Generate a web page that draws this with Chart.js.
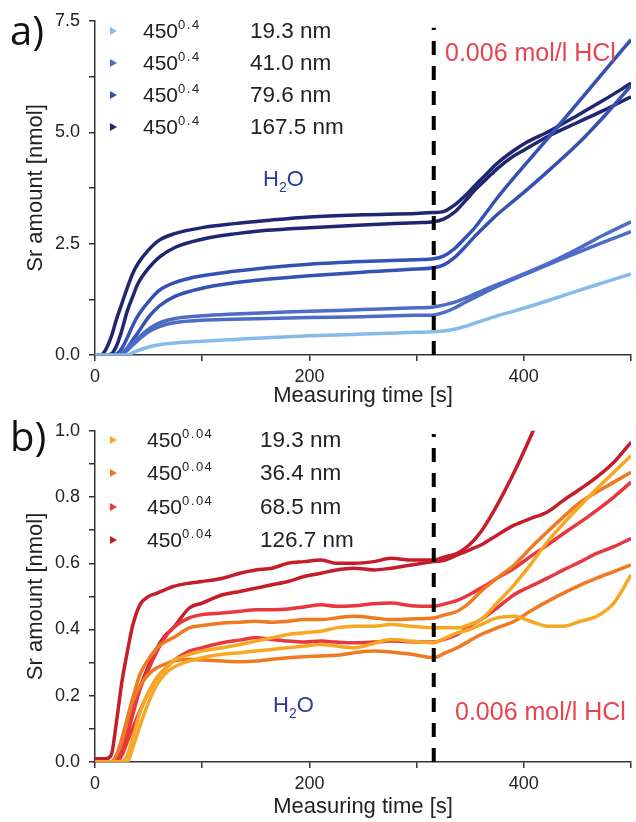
<!DOCTYPE html>
<html><head><meta charset="utf-8">
<script src="https://cdn.jsdelivr.net/npm/chart.js@4.4.1/dist/chart.umd.min.js"></script>
<style>
body{margin:0;background:#fff;}
#wrap{position:relative;width:636px;height:822px;font-family:"Liberation Sans",Arial,sans-serif;color:#222;overflow:hidden;}
canvas{position:absolute;left:0;}
.t{position:absolute;white-space:nowrap;}
.tri{position:absolute;width:0;height:0;border-top:4px solid transparent;border-bottom:4px solid transparent;border-left:7px solid #000;}
.lg{font-size:21px;line-height:24px;}
.lg2{font-size:22.5px;line-height:24px;}
.lg sup{font-size:13px;letter-spacing:1.5px;vertical-align:0;position:relative;top:-9px;}
.pl{font-family:"Open Sans",sans-serif;font-size:40px;line-height:48px;color:#111;}
.h2o{font-size:22px;line-height:26px;color:#2b3a9c;}
.h2o sub{font-size:14px;vertical-align:0;position:relative;top:6px;}
.hcl{font-size:25px;line-height:28px;color:#e8434e;}
</style></head><body>
<div id="wrap">
<canvas id="ca" width="636" height="411" style="top:0"></canvas>
<canvas id="cb" width="636" height="411" style="top:411px"></canvas>
<div class="t pl" style="left:10px;top:6px">a)</div>
<div class="t pl" style="left:10px;top:412px">b)</div>
<div id="legA"></div>
<div id="legB"></div>
<div class="t h2o" style="left:263px;top:166px">H<sub>2</sub>O</div>
<div class="t h2o" style="left:273px;top:692px">H<sub>2</sub>O</div>
<div class="t hcl" style="left:445px;top:38px">0.006 mol/l HCl</div>
<div class="t hcl" style="left:455px;top:697px">0.006 mol/l HCl</div>
</div>
<script>
// ---------- Panel a data ----------
const timesA = [0,5,10,15,20,25,30,35,40,50,60,75,100,130,160,200,250,300,316,325,335,345,355,365,375,390,400,425,450,475,500];
const a_19_3  = [0,0,0,0,0,0,0,0.05,0.10,0.18,0.23,0.27,0.31,0.35,0.39,0.43,0.47,0.51,0.52,0.54,0.58,0.64,0.72,0.80,0.88,0.98,1.05,1.24,1.44,1.63,1.82];
const a_41_0a = [0,0,0,0,0,0.05,0.15,0.28,0.38,0.58,0.72,0.82,0.88,0.92,0.95,0.98,1.02,1.06,1.08,1.12,1.18,1.27,1.38,1.48,1.58,1.72,1.82,2.08,2.38,2.70,2.99];
const a_41_0b = [0,0,0,0,0,0.02,0.10,0.22,0.33,0.52,0.64,0.73,0.78,0.80,0.82,0.84,0.86,0.89,0.90,0.95,1.05,1.18,1.30,1.42,1.54,1.70,1.80,2.05,2.30,2.54,2.77];
const a_79_6a = [0,0,0,0,0.02,0.15,0.38,0.65,0.88,1.20,1.45,1.63,1.78,1.88,1.96,2.04,2.10,2.14,2.16,2.22,2.38,2.62,2.88,3.20,3.52,3.96,4.24,4.94,5.65,6.37,7.08];
const a_79_6b = [0,0,0,0,0,0.02,0.15,0.33,0.50,0.85,1.10,1.32,1.50,1.62,1.70,1.78,1.86,1.93,1.96,2.02,2.18,2.42,2.68,2.92,3.15,3.45,3.65,4.18,4.73,5.36,6.05];
const a_167_5a= [0,0,0.12,0.40,0.80,1.15,1.50,1.82,2.05,2.36,2.58,2.73,2.86,2.95,3.02,3.10,3.15,3.18,3.20,3.22,3.36,3.57,3.82,4.06,4.30,4.58,4.74,5.04,5.38,5.73,6.10];
const a_167_5b= [0,0,0,0.02,0.20,0.55,0.98,1.30,1.60,1.95,2.20,2.42,2.60,2.72,2.80,2.86,2.92,2.97,2.99,3.05,3.20,3.45,3.72,3.95,4.18,4.46,4.60,4.94,5.22,5.50,5.80];
const legendSizesA = ['19.3 nm','41.0 nm','79.6 nm','167.5 nm'];
const legendBaseA = '450', legendExpA = '0.4';
const colorsA = ['#86bae8','#4d6cc6','#3451b4','#1f2672'];

// ---------- Panel b data ----------
const timesB = [0,10,15,20,25,30,35,42,50,58,65,73,88,100,119,135,150,165,180,195,211,225,242,260,276,295,316,327,338,349,360,375,391,406,422,437,453,468,484,500];
const b_19_3a = [0,0,0,0,0,0.02,0.07,0.15,0.21,0.255,0.28,0.305,0.325,0.335,0.345,0.355,0.365,0.375,0.385,0.39,0.395,0.405,0.41,0.41,0.415,0.41,0.405,0.405,0.405,0.415,0.43,0.48,0.535,0.595,0.665,0.72,0.775,0.825,0.875,0.925];
const b_19_3b = [0,0,0,0,0,0,0.04,0.11,0.18,0.235,0.265,0.285,0.305,0.315,0.325,0.33,0.335,0.34,0.345,0.35,0.355,0.35,0.345,0.358,0.37,0.365,0.36,0.375,0.39,0.40,0.415,0.435,0.44,0.425,0.41,0.41,0.425,0.44,0.48,0.565];
const b_36_4a = [0,0,0,0.02,0.07,0.13,0.19,0.265,0.31,0.345,0.362,0.375,0.405,0.412,0.42,0.422,0.425,0.422,0.425,0.43,0.43,0.435,0.44,0.435,0.43,0.432,0.435,0.445,0.455,0.48,0.515,0.555,0.595,0.645,0.695,0.74,0.785,0.815,0.845,0.875];
const b_36_4b = [0,0,0,0.02,0.06,0.12,0.18,0.23,0.265,0.285,0.295,0.305,0.31,0.308,0.305,0.303,0.305,0.31,0.315,0.318,0.32,0.322,0.33,0.335,0.332,0.325,0.315,0.33,0.345,0.365,0.385,0.405,0.425,0.455,0.485,0.51,0.535,0.555,0.575,0.595];
const b_68_5a = [0,0,0,0,0.03,0.08,0.14,0.22,0.28,0.335,0.375,0.405,0.435,0.445,0.45,0.455,0.46,0.46,0.462,0.468,0.475,0.47,0.472,0.478,0.48,0.472,0.47,0.478,0.488,0.505,0.525,0.555,0.585,0.62,0.655,0.69,0.725,0.76,0.80,0.845];
const b_68_5b = [0,0,0,0,0.02,0.06,0.10,0.155,0.21,0.255,0.28,0.305,0.335,0.345,0.36,0.368,0.375,0.37,0.365,0.362,0.365,0.362,0.36,0.362,0.365,0.363,0.362,0.372,0.385,0.41,0.43,0.465,0.505,0.53,0.555,0.58,0.605,0.63,0.65,0.675];
const b_126_7a= [0.01,0.01,0.02,0.12,0.24,0.33,0.41,0.475,0.50,0.51,0.52,0.53,0.54,0.545,0.555,0.57,0.58,0.585,0.60,0.605,0.61,0.60,0.60,0.605,0.615,0.61,0.61,0.62,0.63,0.655,0.695,0.775,0.875,0.98,1.10,null,null,null,null,null];
const b_126_7b= [0,0,0,0.01,0.04,0.10,0.15,0.225,0.29,0.345,0.38,0.405,0.465,0.48,0.505,0.515,0.525,0.535,0.545,0.56,0.57,0.58,0.585,0.58,0.585,0.595,0.605,0.61,0.625,0.64,0.655,0.685,0.715,0.735,0.755,0.79,0.825,0.86,0.905,0.965];
const legendSizesB = ['19.3 nm','36.4 nm','68.5 nm','126.7 nm'];
const legendBaseB = '450', legendExpB = '0.04';
const colorsB = ['#f7a823','#f07a22','#e9373f','#c41e2a'];

// ---------- ticks / switch ----------
const xTickStep = 100, xLabelEvery = 200;
const yTicksA = {step:1.25, labelEvery:2.5, max:7.5};
const yTicksB = {step:0.1, labelEvery:0.2, max:1.0};
const acidTime = 316;

const FONT = '"Liberation Sans", Arial, sans-serif';

function pts(times, vals){ return times.map((t,i)=>({x:t, y:vals[i]})); }

function buildLegend(el, x0, y0, dy, xBase, xSize, base, exp, sizes, colors){
  let h='';
  sizes.forEach((s,i)=>{
    const yc = y0 + i*dy;
    h += `<div class="tri" style="left:${x0}px;top:${yc-4}px;border-left-color:${colors[i]}"></div>`;
    h += `<div class="t lg" style="left:${xBase}px;top:${yc-12}px">${base}<sup>${exp}</sup></div>`;
    h += `<div class="t lg2" style="left:${xSize}px;top:${yc-12}px">${s}</div>`;
  });
  el.innerHTML = h;
}
buildLegend(document.getElementById('legA'),110,31,32,143,250,legendBaseA,legendExpA,legendSizesA,colorsA);
buildLegend(document.getElementById('legB'),110,440,33.3,147,260,legendBaseB,legendExpB,legendSizesB,colorsB);

function line(times, vals, color){
  return {data:pts(times,vals), borderColor:color, backgroundColor:color, borderWidth:3.5, pointRadius:0,
          cubicInterpolationMode:'monotone', fill:false, order:1, spanGaps:false};
}

function makeChart(id, datasets, yt, dashTop, padTop, xHeight){
  const axisCol = '#333';
  return new Chart(document.getElementById(id), {
    type:'line',
    data:{datasets:[
      {data:[{x:acidTime,y:0},{x:acidTime,y:dashTop}], borderColor:'#000', borderWidth:4, borderDash:[14,11], pointRadius:0, order:0},
      ...datasets
    ]},
    options:{
      responsive:false, animation:false,
      layout:{padding:{top:padTop,right:3,left:0,bottom:0}},
      plugins:{legend:{display:false}, tooltip:{enabled:false}},
      scales:{
        x:{type:'linear', min:0, max:500,
          border:{display:true,color:axisCol,width:1.5},
          grid:{drawOnChartArea:false, drawTicks:true, tickLength:6, color:axisCol, lineWidth:1.5},
          ticks:{stepSize:xTickStep, autoSkip:false, maxRotation:0, padding:5, color:'#222', font:{family:FONT,size:18},
                 callback:v=> (v % xLabelEvery === 0) ? String(v) : ''},
          title:{display:true, text:'Measuring time [s]', color:'#222', font:{family:FONT,size:22}, padding:{top:0,bottom:2}},
          afterFit:s=>{s.height = xHeight;}
        },
        y:{type:'linear', min:0, max:yt.max,
          border:{display:true,color:axisCol,width:1.5},
          grid:{drawOnChartArea:false, drawTicks:true, tickLength:6, color:axisCol, lineWidth:1.5},
          ticks:{stepSize:yt.step, autoSkip:false, padding:9, color:'#222', font:{family:FONT,size:18},
                 callback:v=> (Math.round(v/yt.step) % Math.round(yt.labelEvery/yt.step) === 0) ? v.toFixed(1) : ''},
          title:{display:true, text:'Sr amount [nmol]', color:'#222', font:{family:FONT,size:22}, padding:{top:23,bottom:0}},
          afterFit:s=>{s.width = 95;}
        }
      }
    }
  });
}

makeChart('ca', [
  line(timesA,a_19_3,colorsA[0]),
  line(timesA,a_41_0a,colorsA[1]), line(timesA,a_41_0b,colorsA[1]),
  line(timesA,a_79_6a,colorsA[2]), line(timesA,a_79_6b,colorsA[2]),
  line(timesA,a_167_5a,colorsA[3]), line(timesA,a_167_5b,colorsA[3])
], yTicksA, 7.35, 21, 56);

makeChart('cb', [
  line(timesB,b_19_3a,colorsB[0]), line(timesB,b_19_3b,colorsB[0]),
  line(timesB,b_36_4a,colorsB[1]), line(timesB,b_36_4b,colorsB[1]),
  line(timesB,b_68_5a,colorsB[2]), line(timesB,b_68_5b,colorsB[2]),
  line(timesB,b_126_7a,colorsB[3]), line(timesB,b_126_7b,colorsB[3])
], yTicksB, 0.99, 17, 60);
</script>
</body></html>
